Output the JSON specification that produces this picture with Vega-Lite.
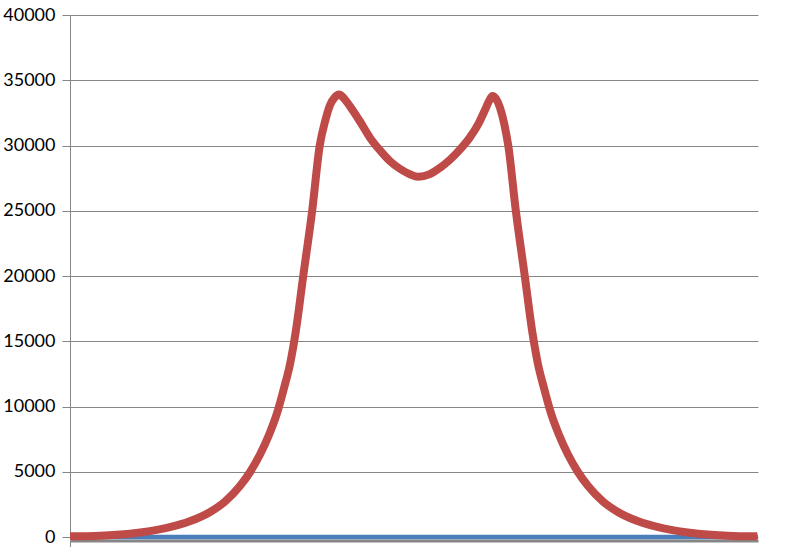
{
  "$schema": "https://vega.github.io/schema/vega-lite/v6.json",
  "width": 688,
  "height": 522,
  "autosize": {"type": "none"},
  "padding": {"left": 70, "top": 15, "right": 28, "bottom": 10},
  "background": "white",
  "config": {
    "view": {"stroke": null},
    "axis": {"labelFont": "Lato", "labelFontSize": 18, "labelColor": "#000000"}
  },
  "datasets": {
    "series": [
      {"x": 0, "y": 0, "s": "B"},
      {"x": 1000, "y": 0, "s": "B"},
      {"x": 0, "y": 50, "s": "A"},
      {"x": 44, "y": 100, "s": "A"},
      {"x": 87, "y": 250, "s": "A"},
      {"x": 116, "y": 450, "s": "A"},
      {"x": 145, "y": 750, "s": "A"},
      {"x": 174, "y": 1200, "s": "A"},
      {"x": 203, "y": 1900, "s": "A"},
      {"x": 225, "y": 2700, "s": "A"},
      {"x": 247, "y": 3900, "s": "A"},
      {"x": 262, "y": 5000, "s": "A"},
      {"x": 276, "y": 6300, "s": "A"},
      {"x": 289, "y": 7800, "s": "A"},
      {"x": 301, "y": 9500, "s": "A"},
      {"x": 311, "y": 11400, "s": "A"},
      {"x": 320, "y": 13300, "s": "A"},
      {"x": 328, "y": 15700, "s": "A"},
      {"x": 339, "y": 20000, "s": "A"},
      {"x": 352, "y": 25000, "s": "A"},
      {"x": 363, "y": 30000, "s": "A"},
      {"x": 371, "y": 31900, "s": "A"},
      {"x": 378, "y": 33100, "s": "A"},
      {"x": 385, "y": 33700, "s": "A"},
      {"x": 391, "y": 33900, "s": "A"},
      {"x": 400, "y": 33500, "s": "A"},
      {"x": 407, "y": 33000, "s": "A"},
      {"x": 422, "y": 31800, "s": "A"},
      {"x": 436, "y": 30600, "s": "A"},
      {"x": 451, "y": 29600, "s": "A"},
      {"x": 465, "y": 28800, "s": "A"},
      {"x": 480, "y": 28200, "s": "A"},
      {"x": 494, "y": 27800, "s": "A"},
      {"x": 506, "y": 27600, "s": "A"},
      {"x": 523, "y": 27800, "s": "A"},
      {"x": 538, "y": 28300, "s": "A"},
      {"x": 552, "y": 28900, "s": "A"},
      {"x": 567, "y": 29700, "s": "A"},
      {"x": 581, "y": 30600, "s": "A"},
      {"x": 594, "y": 31700, "s": "A"},
      {"x": 603, "y": 32700, "s": "A"},
      {"x": 609, "y": 33400, "s": "A"},
      {"x": 614, "y": 33800, "s": "A"},
      {"x": 619, "y": 33600, "s": "A"},
      {"x": 625, "y": 32900, "s": "A"},
      {"x": 631, "y": 31700, "s": "A"},
      {"x": 637, "y": 30000, "s": "A"},
      {"x": 648, "y": 25000, "s": "A"},
      {"x": 661, "y": 20000, "s": "A"},
      {"x": 672, "y": 15700, "s": "A"},
      {"x": 680, "y": 13300, "s": "A"},
      {"x": 689, "y": 11400, "s": "A"},
      {"x": 699, "y": 9500, "s": "A"},
      {"x": 711, "y": 7800, "s": "A"},
      {"x": 724, "y": 6300, "s": "A"},
      {"x": 738, "y": 5000, "s": "A"},
      {"x": 753, "y": 3900, "s": "A"},
      {"x": 775, "y": 2700, "s": "A"},
      {"x": 797, "y": 1900, "s": "A"},
      {"x": 826, "y": 1200, "s": "A"},
      {"x": 855, "y": 750, "s": "A"},
      {"x": 884, "y": 450, "s": "A"},
      {"x": 913, "y": 250, "s": "A"},
      {"x": 956, "y": 100, "s": "A"},
      {"x": 999, "y": 50, "s": "A"}
    ]
  },
  "data": {"name": "series"},
  "layer": [
    {
      "transform": [{"filter": "datum.s === 'B'"}],
      "mark": {"type": "line", "color": "#4A7EBB", "strokeWidth": 4.5},
      "encoding": {
        "x": {
          "field": "x", "type": "quantitative",
          "scale": {"domain": [0, 1000], "nice": false, "zero": false},
          "axis": {
            "title": null, "labels": false, "grid": false, "offset": 3.5,
            "domainColor": "#868686", "domainWidth": 3, "zindex": 0,
            "values": [0], "tickColor": "#868686", "tickSize": 8, "tickWidth": 1
          }
        },
        "y": {
          "field": "y", "type": "quantitative",
          "scale": {"domain": [0, 40000], "nice": false},
          "axis": {
            "title": null, "values": [0, 5000, 10000, 15000, 20000, 25000, 30000, 35000, 40000],
            "format": "d", "grid": true, "gridColor": "#868686", "gridWidth": 1,
            "domainColor": "#868686", "domainWidth": 1, "zindex": 0,
            "tickColor": "#868686", "tickSize": 8, "labelPadding": 7
          }
        }
      }
    },
    {
      "transform": [{"filter": "datum.s === 'A'"}],
      "mark": {"type": "line", "color": "#BE4B48", "strokeWidth": 8, "interpolate": "monotone"},
      "encoding": {
        "x": {"field": "x", "type": "quantitative"},
        "y": {"field": "y", "type": "quantitative"}
      }
    }
  ]
}
